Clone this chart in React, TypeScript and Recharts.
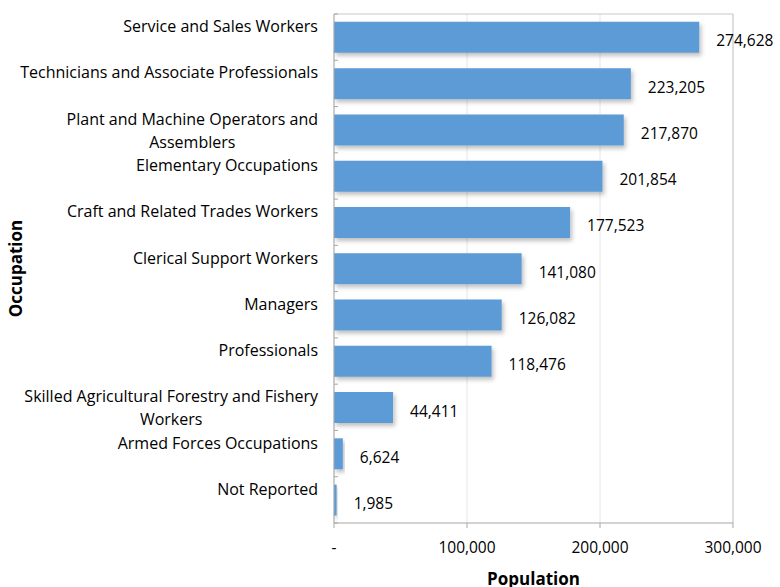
import { BarChart, Bar, XAxis, YAxis, CartesianGrid, LabelList, ReferenceLine } from "recharts";

const occupations = [
  "Service and Sales Workers",
  "Technicians and Associate Professionals",
  "Plant and Machine Operators and|Assemblers",
  "Elementary Occupations",
  "Craft and Related Trades Workers",
  "Clerical Support Workers",
  "Managers",
  "Professionals",
  "Skilled Agricultural Forestry and Fishery|Workers",
  "Armed Forces Occupations",
  "Not Reported",
];
const population = [274628, 223205, 217870, 201854, 177523, 141080, 126082, 118476, 44411, 6624, 1985];
const xTicks = [0, 100000, 200000, 300000];

const data = occupations.map((name, i) => ({ name, value: population[i] }));

const W = 780;
const H = 587;
const TOP = 14;
const BOTTOM = 64;
const BAND_HALF = (H - TOP - BOTTOM) / occupations.length / 2;
const FONT = "'Open Sans', sans-serif";
const AXIS = "#a6a6a6";

const fmt = (v: number) => (v === 0 ? "-" : v.toLocaleString("en-US"));

let ctx: CanvasRenderingContext2D | null = null;
function textWidth(s: string) {
  if (!ctx) ctx = document.createElement("canvas").getContext("2d");
  if (!ctx) return s.length * 8;
  ctx.font = "16px 'Open Sans'";
  return ctx.measureText(s).width;
}

function CategoryTick(props: any) {
  const { x, y, payload, index } = props;
  const lines = String(payload.value).split("|");
  const right = x - 8;
  const mid = right - textWidth(lines[0]) / 2;
  return (
    <g>
      <line x1={x + 8} x2={x + 12} y1={y - BAND_HALF} y2={y - BAND_HALF} stroke={AXIS} />
      {index === occupations.length - 1 && (
        <line x1={x + 8} x2={x + 12} y1={y + BAND_HALF} y2={y + BAND_HALF} stroke={AXIS} />
      )}
      {lines.map((l, i) => (
        <text
          key={i}
          x={i === 0 ? right : mid}
          y={y - 11 + i * 23}
          textAnchor={i === 0 ? "end" : "middle"}
          fontSize={16}
          fill="#000"
          fontFamily={FONT}
          dominantBaseline="central"
        >
          {l}
        </text>
      ))}
    </g>
  );
}

function ValueLabel(props: any) {
  const { x, y, width, height, value } = props;
  return (
    <text x={x + width + 17} y={y + height / 2 + 3} fontSize={15.5} fill="#000" fontFamily={FONT} dominantBaseline="central">
      {fmt(value)}
    </text>
  );
}

export default function App() {
  return (
    <div style={{ position: "absolute", left: 0, top: 0, width: W, height: H, background: "#fff" }}>
      <BarChart
        width={W}
        height={H}
        data={data}
        layout="vertical"
        margin={{ top: TOP, right: 47, left: 0, bottom: 0 }}
        barCategoryGap="17%"
      >
        <defs>
          <filter id="shadow" x="-10%" y="-20%" width="130%" height="160%">
            <feDropShadow dx="2" dy="3" stdDeviation="2" floodColor="#000" floodOpacity="0.25" />
          </filter>
        </defs>
        <CartesianGrid horizontal={false} stroke="#e6e6e6" />
        <CartesianGrid
          vertical={false}
          stroke="#c8c8c8"
          horizontalCoordinatesGenerator={(p: any) => [p.offset.top]}
        />
        <ReferenceLine x={300000} stroke="#c8c8c8" />
        <XAxis
          type="number"
          domain={[0, 300000]}
          ticks={xTicks}
          tickFormatter={fmt}
          height={BOTTOM}
          stroke={AXIS}
          tickSize={5}
          tickMargin={14}
          tick={{ fill: "#000", fontSize: 15.5, fontFamily: FONT }}
          label={{
            value: "Population",
            position: "insideBottom",
            offset: 2,
            fill: "#000",
            fontSize: 17,
            fontWeight: "bold",
            fontFamily: FONT,
          }}
        />
        <YAxis
          type="category"
          dataKey="name"
          width={334}
          stroke={AXIS}
          tickLine={false}
          interval={0}
          tick={<CategoryTick />}
          label={{
            value: "Occupation",
            angle: -90,
            position: "insideLeft",
            offset: 16,
            fill: "#000",
            fontSize: 17,
            fontWeight: "bold",
            fontFamily: FONT,
            style: { textAnchor: "middle" },
          }}
        />
        <Bar dataKey="value" fill="#5b9bd5" isAnimationActive={false} filter="url(#shadow)">
          <LabelList dataKey="value" content={<ValueLabel />} />
        </Bar>
      </BarChart>
    </div>
  );
}
